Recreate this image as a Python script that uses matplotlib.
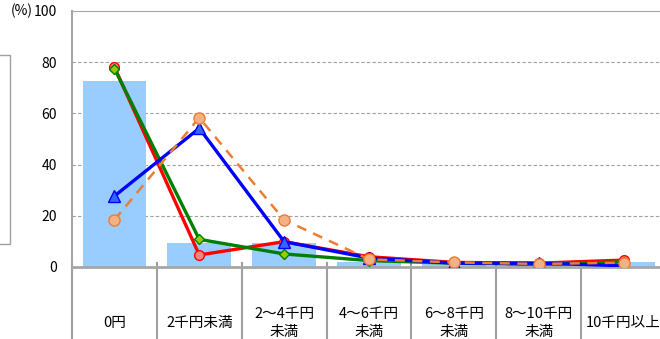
import matplotlib
matplotlib.use("Agg")
import matplotlib.pyplot as plt
import matplotlib.transforms as mtransforms
from matplotlib.patches import Rectangle

plt.rcParams['font.family'] = ['Noto Sans CJK JP', 'DejaVu Sans']

# 金額区分
categories = ['0円', '2千円未満', '2～4千円\n未満', '4～6千円\n未満', '6～8千円\n未満', '8～10千円\n未満', '10千円以上']

# 棒グラフ（全体）
bar_values = [72.7, 9.4, 9.3, 2.1, 1.4, 1.0, 1.8]

# 折れ線
red_values = [78.1, 4.7, 9.9, 4.0, 1.8, 1.5, 2.7]
green_values = [77.5, 10.8, 5.1, 2.5, 1.5, 1.0, 2.0]
blue_values = [27.7, 54.2, 9.9, 3.5, 1.5, 1.5, 0.5]
orange_values = [18.4, 58.3, 18.4, 3.0, 1.8, 1.2, 1.7]

W, H = 660, 339
fig = plt.figure(figsize=(W / 100, H / 100), dpi=100)
ax = fig.add_axes([72 / W, 1 - 267 / H, (666 - 72) / W, (267 - 11) / H])

x = list(range(len(categories)))
ax.bar(x, bar_values, width=0.75, color='#99CCFF', zorder=1)

ax.plot(x, red_values, color='#FF0000', lw=2.4, marker='o', ms=7,
        mfc='#FF8080', mec='#FF0000', mew=1, zorder=3)
ax.plot(x, green_values, color='#008000', lw=2.4, marker='D', ms=5.5,
        mfc='#99CC00', mec='#008000', mew=1, zorder=4)
ax.plot(x, blue_values, color='#0000FF', lw=2.4, marker='^', ms=8,
        mfc='#3366FF', mec='#0000FF', mew=1, zorder=5)
ax.plot(x, orange_values, color='#ED7D31', lw=1.8, ls=(0, (4, 3)), marker='o', ms=8,
        mfc='#F4B183', mec='#ED7D31', mew=1, zorder=6)

ax.set_xlim(-0.5, len(categories) - 0.5)
ax.set_ylim(0, 100)
ax.set_yticks([0, 20, 40, 60, 80, 100])
ax.tick_params(axis='y', length=0, labelsize=10, pad=11)
ax.tick_params(axis='x', length=0, labelbottom=False)
for v in [20, 40, 60, 80]:
    ax.axhline(v, color='#A0A0A0', lw=0.8, ls=(0, (3, 2)), zorder=0)

ax.spines['right'].set_visible(False)
ax.spines['top'].set_color('#A6A6A6')
ax.spines['left'].set_color('#A6A6A6')
ax.spines['left'].set_linewidth(1.5)
ax.spines['bottom'].set_color('#A6A6A6')
ax.spines['bottom'].set_linewidth(2)

# 表形式の区分ラベル
trans = mtransforms.blended_transform_factory(ax.transData, ax.transAxes)
for b in [i - 0.5 for i in range(len(categories) + 1)]:
    ax.plot([b, b], [0.015, -0.4], color='#A0A0A0', lw=1.5, transform=trans, clip_on=False)
for i, label in enumerate(categories):
    ax.text(i, -0.22, label, transform=trans, ha='center', va='center',
            fontsize=10.5, linespacing=1.35)

fig.text(11 / W, 1 - 11 / H, '(%)', fontsize=10, ha='left', va='center')

# 凡例枠
fig.patches.append(Rectangle((-5 / W, 1 - 244 / H), 15 / W, (244 - 55) / H,
                             transform=fig.transFigure, fill=False,
                             edgecolor='#A0A0A0', lw=1))

fig.savefig('out.png', dpi=100)
